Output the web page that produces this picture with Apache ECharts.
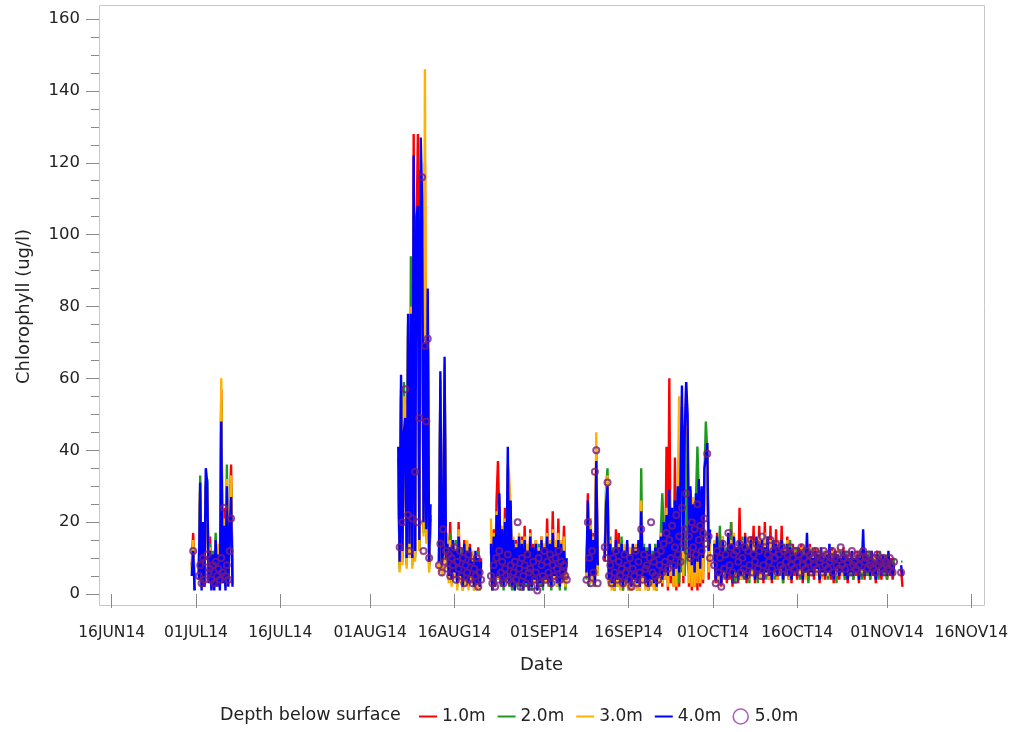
<!DOCTYPE html>
<html>
<head>
<meta charset="utf-8">
<title>Chlorophyll by depth</title>
<script src="https://cdn.jsdelivr.net/npm/echarts@6/dist/echarts.min.js"></script>
<style>
  html, body { margin: 0; padding: 0; background: #fff; }
  #chart { width: 1013px; height: 732px; }
</style>
</head>
<body>
<div id="chart"></div>
<script>
// Readings are 6 hours apart; each deployment run starts at one of these UTC times.
const runStarts  = ['2014-06-30T06:00', '2014-08-06T00:00', '2014-08-13T06:00', '2014-08-22T12:00',
                    '2014-09-08T12:00', '2014-09-11T18:00', '2014-10-01T06:00', '2014-11-03T12:00'];
const runLengths = [30, 24, 31, 55, 9, 76, 129, 2];
const stepHours  = 6;

const depthNames = ['1.0m', '2.0m', '3.0m', '4.0m', '5.0m'];

// Chlorophyll (ug/l), one row per run
const chl1m = [
  8, 17, 2, null, null, 6, 28, 3, 18, 2, 30, 25, 4, 16, 3, 11, 2, 14, 3, 13, 2, 57, 4, 24, 2, 28, 5, 22, 36, 3,
  35, 8, 55, 10, 42, 44, 9, 72, 12, 70, 9, 128, 11, 100, 128, 13, 118, 104, 18, 120, 16, 78, 8, 22,
  8, 55, 7, 11, 60, 9, 16, 6, 20, 5, 14, 7, 13, 4, 20, 6, 12, 3, 15, 5, 13, 4, 14, 6, 10, 3, 11, 4, 13, 3, 10,
  12, 2, 18, 3, 26, 37, 20, 4, 17, 3, 24, 5, 30, 4, 22, 3, 14, 2, 15, 4, 14, 3, 16, 2, 19, 4, 13, 2, 18, 3, 14, 5, 15, 2, 13, 4, 16, 3, 14, 5, 21, 4, 15, 3, 23, 6, 14, 4, 21, 3, 15, 5, 19, 5, 9,
  5, 28, 3, 21, 4, 17, 2, 40, 7,
  9, 22, 26, 3, 13, 2, 11, 1, 18, 3, 17, 2, 13, 1, 11, 3, 14, 2, 10, 1, 13, 3, 11, 2, 14, 1, 21, 4, 12, 2,
  11, 1, 13, 3, 10, 2, 12, 1, 14, 3, 15, 2, 19, 4, 41, 1, 60, 3, 23, 2, 38, 1, 28, 2, 31, 52, 3, 40, 55, 45,
  2, 28, 1, 24, 2, 26, 1, 30, 2, 28, 3, 32, 36, 38, 4, 15,
  13, 3, 17, 4, 12, 2, 16, 5, 11, 3, 15, 4, 20, 2, 14, 5, 12, 3, 24, 4, 13, 5, 17, 3, 12, 4, 16, 6, 19, 3,
  14, 4, 19, 5, 13, 3, 20, 5, 15, 4, 19, 3, 14, 5, 18, 4, 12, 6, 19, 3, 13, 5, 16, 4, 12, 3, 14, 5, 13, 4,
  12, 6, 14, 3, 11, 5, 13, 4, 14, 5, 11, 4, 13, 6, 12, 3, 12, 5, 11, 4, 12, 5, 11, 4, 13, 3, 11, 6, 12, 4,
  11, 5, 13, 4, 10, 3, 12, 5, 11, 4, 10, 5, 12, 3, 11, 6, 10, 4, 12, 5, 11, 4, 10, 5, 11, 3, 12, 6, 9, 4,
  10, 5, 11, 4, 9, 5, 10, 4, 7,
  7, 2
];
const chl2m = [
  7, 14, 1, null, null, 5, 33, 2, 17, 3, 31, 32, 5, 14, 2, 12, 3, 17, 4, 12, 3, 54, 3, 20, 3, 36, 4, 20, 30, 4,
  38, 7, 57, 9, 59, 46, 8, 75, 11, 94, 8, 105, 10, 98, 100, 12, 112, 100, 17, 90, 15, 80, 7, 21,
  7, 58, 6, 10, 63, 8, 15, 4, 17, 3, 13, 5, 15, 2, 17, 4, 13, 1, 12, 3, 14, 2, 12, 4, 11, 1, 10, 2, 12, 2, 8,
  13, 1, 15, 2, 20, 4, 24, 2, 16, 1, 19, 3, 35, 2, 25, 1, 14, 1, 12, 2, 15, 1, 13, 1, 14, 2, 13, 1, 15, 1, 12, 3, 13, 1, 14, 2, 14, 1, 12, 3, 15, 2, 13, 1, 16, 4, 12, 2, 16, 1, 13, 3, 14, 1, 6,
  4, 23, 2, 19, 3, 14, 2, 36, 6,
  11, 30, 35, 3, 16, 2, 13, 1, 14, 2, 12, 2, 16, 1, 13, 3, 12, 1, 12, 2, 12, 3, 13, 1, 14, 2, 35, 4, 14, 2,
  13, 1, 12, 3, 12, 2, 14, 1, 13, 4, 18, 28, 18, 5, 20, 3, 27, 6, 22, 3, 24, 4, 29, 3, 31, 6, 47, 5, 44, 9,
  6, 29, 5, 23, 3, 27, 41, 28, 4, 29, 6, 33, 48, 40, 8, 16,
  12, 5, 15, 3, 19, 6, 14, 4, 13, 5, 14, 6, 20, 4, 15, 3, 13, 6, 14, 5, 16, 4, 13, 6, 15, 3, 14, 5, 13, 6,
  15, 3, 13, 6, 14, 5, 12, 4, 16, 6, 13, 5, 15, 4, 12, 6, 14, 5, 13, 3, 14, 6, 12, 5, 15, 4, 11, 6, 13, 5,
  12, 4, 11, 6, 13, 5, 12, 3, 11, 6, 13, 5, 11, 6, 12, 4, 11, 6, 12, 5, 11, 4, 12, 6, 10, 5, 12, 3, 11, 6,
  12, 5, 11, 4, 12, 6, 10, 5, 11, 4, 11, 6, 10, 5, 12, 4, 11, 6, 10, 5, 12, 4, 11, 6, 10, 5, 11, 4, 12, 6,
  10, 5, 11, 4, 10, 6, 9, 5, 10,
  9, 9
];
const chl3m = [
  6, 15, 2, null, null, 6, 30, 2, 19, 3, 28, 30, 5, 13, 3, 10, 2, 15, 3, 14, 2, 60, 5, 21, 2, 32, 5, 23, 33, 3,
  36, 6, 52, 8, 55, 52, 7, 74, 10, 80, 7, 110, 9, 96, 104, 12, 115, 98, 16, 146, 14, 76, 6, 20,
  6, 60, 5, 9, 64, 7, 17, 3, 15, 2, 12, 4, 14, 1, 18, 3, 10, 1, 13, 2, 15, 1, 11, 3, 12, 1, 9, 1, 11, 1, 7,
  21, 3, 17, 2, 23, 4, 27, 3, 19, 2, 21, 3, 36, 33, 24, 3, 16, 2, 14, 3, 17, 2, 15, 1, 16, 3, 14, 2, 17, 3, 13, 3, 15, 2, 13, 3, 16, 2, 14, 3, 17, 2, 15, 3, 18, 4, 15, 2, 17, 3, 15, 3, 16, 2, 8,
  5, 24, 3, 21, 3, 16, 3, 45, 5,
  10, 28, 33, 2, 15, 1, 12, 1, 13, 2, 14, 1, 12, 2, 14, 2, 13, 1, 13, 1, 11, 2, 14, 1, 13, 1, 26, 3, 12, 1,
  12, 1, 13, 2, 11, 1, 13, 1, 14, 3, 17, 3, 19, 4, 24, 2, 28, 5, 22, 2, 25, 2, 27, 55, 30, 50, 5, 43, 59, 46,
  3, 27, 2, 27, 2, 25, 3, 29, 3, 28, 4, 31, 37, 42, 6, 14,
  15, 5, 14, 4, 13, 6, 16, 4, 12, 5, 13, 6, 15, 4, 17, 5, 13, 6, 14, 4, 15, 5, 14, 6, 16, 4, 13, 5, 15, 6,
  14, 5, 16, 4, 13, 6, 17, 5, 14, 4, 15, 6, 13, 5, 14, 4, 15, 6, 12, 5, 13, 6, 15, 4, 12, 5, 13, 6, 12, 5,
  12, 5, 13, 6, 11, 4, 12, 6, 13, 5, 11, 6, 12, 5, 13, 6, 11, 4, 12, 6, 12, 5, 11, 6, 12, 4, 11, 5, 13, 6,
  11, 5, 12, 6, 11, 5, 12, 6, 11, 5, 12, 6, 11, 5, 10, 6, 12, 5, 11, 6, 10, 5, 12, 6, 11, 5, 10, 6, 11, 5,
  11, 6, 10, 5, 11, 6, 9, 5, 8,
  null, null
];
const chl4m = [
  5, 12, 1, null, null, 4, 31, 1, 20, 2, 35, 31, 3, 12, 1, 11, 1, 15, 2, 11, 1, 48, 3, 19, 1, 30, 2, 18, 27, 2,
  41, 9, 61, 12, 45, 49, 10, 78, 14, 78, 10, 122, 12, 105, 108, 15, 127, 110, 20, 70, 18, 85, 9, 25,
  9, 62, 8, 12, 66, 10, 14, 5, 13, 4, 15, 6, 12, 3, 16, 5, 11, 2, 14, 4, 12, 3, 13, 5, 9, 2, 12, 3, 10, 2, 9,
  14, 1, 16, 2, 22, 5, 28, 3, 18, 2, 20, 4, 41, 3, 26, 2, 15, 1, 13, 3, 16, 2, 14, 1, 15, 3, 12, 1, 16, 2, 13, 4, 14, 1, 12, 3, 15, 2, 13, 4, 16, 3, 14, 2, 17, 5, 13, 3, 15, 2, 14, 4, 12, 6, 10,
  6, 26, 4, 18, 5, 15, 3, 37, 8,
  10, 25, 30, 4, 14, 3, 12, 2, 15, 4, 13, 3, 14, 2, 12, 4, 15, 3, 11, 2, 14, 4, 12, 3, 15, 2, 23, 5, 13, 3,
  12, 2, 14, 4, 11, 3, 13, 2, 15, 5, 16, 4, 20, 6, 22, 5, 29, 8, 24, 5, 26, 7, 30, 6, 33, 58, 12, 45, 59, 50,
  10, 30, 8, 25, 6, 28, 9, 32, 7, 30, 10, 35, 38, 42, 12, 18,
  14, 4, 16, 5, 13, 3, 15, 6, 12, 4, 17, 5, 14, 3, 16, 6, 13, 4, 15, 5, 14, 6, 16, 4, 13, 5, 15, 7, 12, 4,
  16, 5, 14, 6, 15, 4, 13, 6, 16, 5, 12, 4, 15, 6, 14, 5, 13, 7, 15, 4, 12, 6, 14, 5, 13, 4, 12, 6, 11, 5,
  13, 7, 12, 4, 11, 6, 17, 5, 12, 6, 10, 5, 12, 7, 11, 4, 13, 6, 10, 5, 11, 6, 14, 5, 10, 4, 12, 7, 11, 5,
  10, 6, 12, 5, 11, 4, 10, 6, 12, 5, 10, 6, 11, 4, 10, 7, 18, 5, 11, 6, 10, 5, 12, 6, 9, 4, 11, 7, 10, 5,
  11, 6, 10, 5, 12, 6, 9, 5, 8,
  8, 5
];
const chl5m = [
  null, 12, null, null, null, 5, 8, 3, 10, 4, 9, 11, 6, 7, 4, 8, 3, 9, 5, 7, 4, 10, 6, 24, 5, 8, 4, 12, 21, null,
  null, 13, null, 20, null, 57, null, 22, 12, null, 21, null, 34, null, 20, 49, null, 116, 12, 69, 48, 71, 10, null,
  8, 14, 6, 18, 9, 12, 7, 11, 5, 10, 8, 13, 4, 9, 7, 12, 5, 10, 3, 8, 6, 11, 4, 9, 3, 7, 5, 10, 2, 6, 4,
  5, 3, 8, 2, 10, 4, 12, 6, 9, 3, 7, 5, 11, 4, 8, 3, 6, 9, 4, 20, 7, 2, 10, 5, 8, 3, 11, 6, 7, 2, 9, 4, 6, 1, 10, 3, 8, 5, 12, 4, 9, 6, 11, 3, 8, 5, 10, 7, 12, 4, 9, 6, 8, 5, 4,
  4, 20, 10, 3, 12, 6, 34, 40, 3,
  13, 10, 31, 5, 8, 3, 10, 6, 12, 4, 9, 5, 7, 3, 11, 6, 8, 4, 10, 2, 7, 5, 12, 3, 9, 6, 18, 4, 11, 7,
  8, 3, 10, 20, 6, 9, 5, 11, 4, 8, 12, 6, 14, 9, 17, 7, 15, 10, 19, 8, 13, 22, 11, 16, 9, 24, 14, 18, 28, 12,
  16, 10, 20, 13, 18, 11, 25, 15, 19, 12, 17, 21, 14, 39, 16, 10,
  8, 3, 12, 6, 10, 2, 14, 7, 11, 5, 17, 8, 13, 6, 11, 4, 12, 9, 14, 6, 10, 7, 13, 5, 12, 8, 15, 6, 11, 9,
  14, 7, 12, 5, 16, 8, 13, 6, 11, 9, 15, 7, 12, 10, 14, 6, 11, 8, 13, 7, 12, 9, 11, 6, 13, 8, 10, 7, 12, 9,
  11, 6, 13, 8, 10, 7, 12, 9, 11, 6, 10, 8, 12, 7, 11, 9, 10, 6, 12, 8, 11, 7, 9, 10, 12, 6, 10, 8, 11, 7,
  13, 8, 10, 7, 11, 9, 10, 6, 12, 8, 9, 7, 11, 8, 10, 6, 12, 9, 10, 7, 11, 8, 9, 7, 10, 6, 11, 8, 9, 7,
  10, 6, 9, 8, 7, 10, 8, 6, 9,
  6, null
];

// Date axis ticks
const tickDates  = ['2014-06-16', '2014-07-01', '2014-07-16', '2014-08-01', '2014-08-16', '2014-09-01',
                    '2014-09-16', '2014-10-01', '2014-10-16', '2014-11-01', '2014-11-16'];
const tickLabels = ['16JUN14', '01JUL14', '16JUL14', '01AUG14', '16AUG14', '01SEP14',
                    '16SEP14', '01OCT14', '16OCT14', '01NOV14', '16NOV14'];

const lineColors = ['#ff0000', '#1f9a1f', '#ffb000', '#0000ff'];
const markerColor = '#761a7e';
const font = "'DejaVu Sans', sans-serif";
const DAY = 86400000;

// Pair each reading with its time; a null between runs breaks the line.
function toPairs(values) {
  const out = [];
  let k = 0;
  runStarts.forEach((s, r) => {
    const t0 = Date.parse(s + ':00Z');
    for (let i = 0; i < runLengths[r]; i++) {
      out.push([t0 + i * stepHours * 3600000, values[k++]]);
    }
    out.push([t0 + runLengths[r] * stepHours * 3600000, null]);
  });
  return out;
}

const tickTimes = tickDates.map(d => Date.parse(d + 'T00:00:00Z'));
const xMin = tickTimes[0] - 2.26 * DAY;
const xMax = tickTimes[tickTimes.length - 1] + 2.26 * DAY;

const lineSeries = [chl1m, chl2m, chl3m, chl4m].map((vals, i) => ({
  name: depthNames[i],
  type: 'line',
  data: toPairs(vals),
  symbol: 'none',
  connectNulls: false,
  lineStyle: { color: lineColors[i], width: 2.4 },
  itemStyle: { color: lineColors[i] },
  emphasis: { disabled: true },
  z: 2 + i
}));

const markerSeries = {
  name: depthNames[4],
  type: 'scatter',
  data: toPairs(chl5m),
  symbol: 'circle',
  symbolSize: 6,
  itemStyle: { color: 'rgba(0,0,0,0)', borderColor: markerColor, borderWidth: 2 },
  emphasis: { disabled: true },
  z: 7
};

const chart = echarts.init(document.getElementById('chart'), null, { renderer: 'canvas' });
chart.setOption({
  animation: false,
  backgroundColor: '#ffffff',
  textStyle: { fontFamily: font },
  grid: { left: 99, right: 29, top: 19, bottom: 138, containLabel: false },
  xAxis: {
    type: 'value',
    min: xMin,
    max: xMax,
    offset: 12,
    axisLine: { show: false },
    axisTick: { show: true, customValues: tickTimes, length: 14, lineStyle: { color: '#8a8a8a' } },
    axisLabel: {
      customValues: tickTimes,
      margin: 19,
      fontSize: 15.5,
      color: '#222',
      fontFamily: font,
      formatter: v => {
        let best = 0;
        tickTimes.forEach((t, i) => { if (Math.abs(t - v) < Math.abs(tickTimes[best] - v)) best = i; });
        return tickLabels[best];
      }
    },
    splitLine: { show: false },
    name: 'Date',
    nameLocation: 'middle',
    nameGap: 50,
    nameTextStyle: { fontSize: 18, color: '#222', fontFamily: font }
  },
  yAxis: {
    type: 'value',
    min: 0,
    max: 160,
    interval: 20,
    axisLine: { show: false },
    axisTick: { show: true, length: 13, lineStyle: { color: '#8a8a8a' } },
    minorTick: { show: true, splitNumber: 4, length: 8, lineStyle: { color: '#8a8a8a' } },
    splitLine: { show: false },
    minorSplitLine: { show: false },
    axisLabel: { margin: 19, fontSize: 16.5, color: '#222', fontFamily: font },
    name: 'Chlorophyll (ug/l)',
    nameLocation: 'middle',
    nameGap: 66,
    nameTextStyle: { fontSize: 18, color: '#222', fontFamily: font }
  },
  legend: {
    left: 418,
    top: 708,
    padding: 0,
    itemWidth: 18,
    itemHeight: 15,
    itemGap: 11,
    selectedMode: false,
    textStyle: { fontSize: 17, color: '#222', fontFamily: font },
    data: [
      { name: '1.0m', itemStyle: { opacity: 0 }, lineStyle: { width: 2 } },
      { name: '2.0m', itemStyle: { opacity: 0 }, lineStyle: { width: 2 } },
      { name: '3.0m', itemStyle: { opacity: 0 }, lineStyle: { width: 2 } },
      { name: '4.0m', itemStyle: { opacity: 0 }, lineStyle: { width: 2 } },
      { name: '5.0m', icon: 'circle', itemStyle: { color: 'rgba(0,0,0,0)', borderColor: '#9a3aa8', borderWidth: 1.6 } }
    ]
  },
  graphic: [
    {
      type: 'rect',
      silent: true,
      shape: { x: 99.5, y: 5.5, width: 885, height: 600 },
      style: { fill: 'none', stroke: '#c8c8c8', lineWidth: 1 }
    },
    {
      type: 'text',
      left: 220,
      top: 706,
      silent: true,
      style: { text: 'Depth below surface', fill: '#222', font: "17.5px 'DejaVu Sans', sans-serif" }
    }
  ],
  series: [...lineSeries, markerSeries]
});
</script>
</body>
</html>
